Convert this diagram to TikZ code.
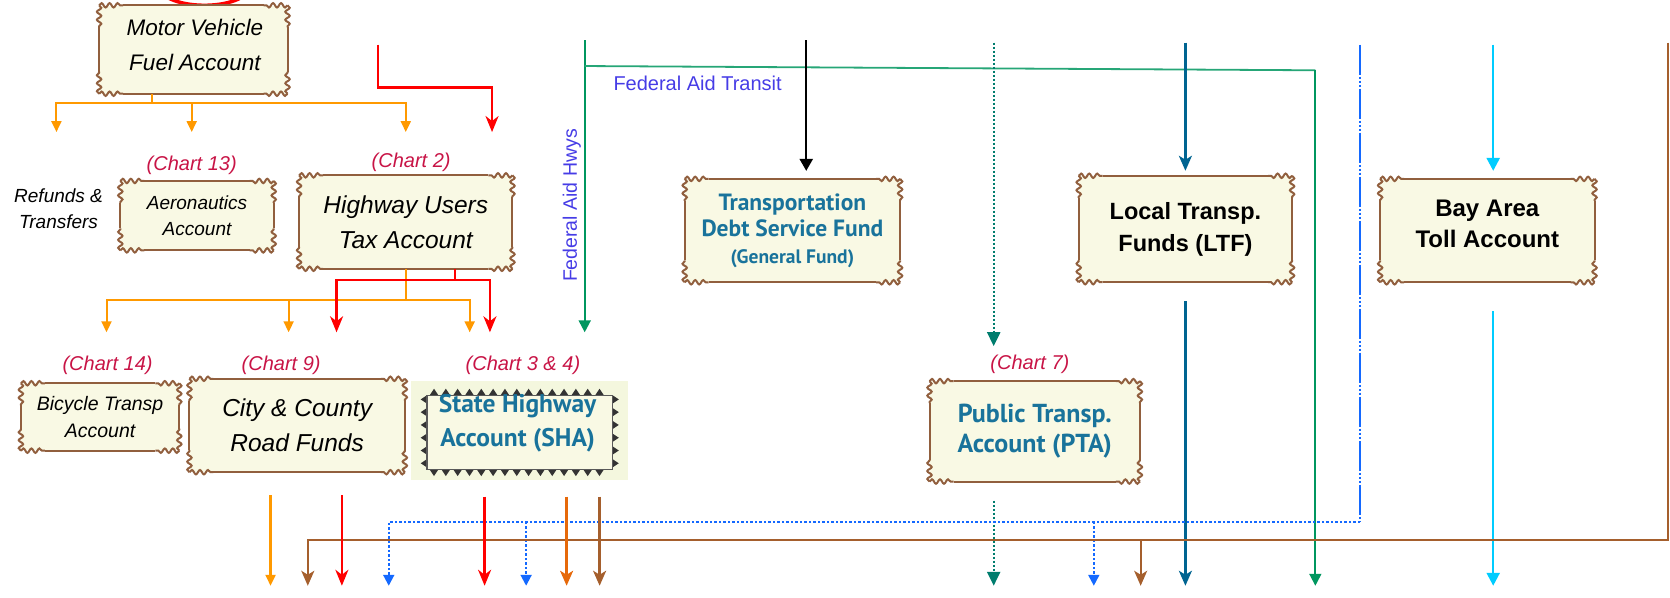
\documentclass[tikz,border=0pt]{standalone}
\usepackage{fontspec}
\setmainfont{Liberation Sans}
\newfontfamily\ptsans{PT Sans}
\usetikzlibrary{arrows.meta,decorations.pathmorphing,calc}
\definecolor{cream}{RGB}{249,249,228}
\definecolor{scrollbrown}{RGB}{145,95,62}
\definecolor{orangeA}{RGB}{255,153,0}
\definecolor{redA}{RGB}{255,0,0}
\definecolor{greenA}{RGB}{0,150,95}
\definecolor{tealA}{RGB}{0,125,110}
\definecolor{ltfblue}{RGB}{0,100,145}
\definecolor{blueA}{RGB}{20,105,255}
\definecolor{cyanA}{RGB}{0,204,255}
\definecolor{brownA}{RGB}{165,95,45}
\definecolor{dorange}{RGB}{230,105,10}
\definecolor{chartred}{RGB}{200,20,70}
\definecolor{fedblue}{RGB}{70,60,230}
\definecolor{tealtext}{RGB}{25,115,155}
\definecolor{shabg}{RGB}{244,247,222}
\newcommand{\scrollborder}[1]{%
  \draw[scrollline] ([xshift=24pt]#1.north west) -- ([xshift=-24pt]#1.north east);
  \draw[scrollline] ([xshift=24pt]#1.south west) -- ([xshift=-24pt]#1.south east);
  \draw[scrollline] ([yshift=-22pt]#1.north west) -- ([yshift=22pt]#1.south west);
  \draw[scrollline] ([yshift=-22pt]#1.north east) -- ([yshift=22pt]#1.south east);
  \foreach \c/\dx/\dy in {north west/1/-1, north east/-1/-1, south west/1/1, south east/-1/1}{
    \draw[scrollline,scrollcurl] (#1.\c) -- ([xshift=\dx*24pt]#1.\c);
    \draw[scrollline,scrollcurl] (#1.\c) -- ([yshift=\dy*22pt]#1.\c);
  }%
}
\begin{document}
\begin{tikzpicture}[x=1.065pt,y=-1.065pt,
  scrollline/.style={draw=scrollbrown,line width=2pt},
  scrollcurl/.style={decorate,decoration={snake,amplitude=2.2pt,segment length=8pt}},
  scrollbox/.style={fill=cream,inner sep=0pt,align=center},
  chartlbl/.style={font=\fontsize{20}{22}\selectfont\itshape,text=chartred},
  og/.style={draw=orangeA,line width=2pt},
  ogA/.style={og,-{Triangle[length=11pt,width=10pt]}},
  rd/.style={draw=redA,line width=2.5pt},
  rdA/.style={rd,-{Stealth[length=16pt,width=13pt,inset=5pt]}},
  grA/.style={draw=greenA,line width=2.2pt,-{Triangle[length=12pt,width=12pt]}},
  bkA/.style={draw=black,line width=2.4pt,-{Triangle[length=12pt,width=13pt]}},
  tlA/.style={draw=tealA,line width=2.4pt,dash pattern=on 2pt off 2pt,-{Triangle[length=14pt,width=13pt]}},
  ltA/.style={draw=ltfblue,line width=2.4pt,-{Stealth[length=15pt,width=13pt,inset=4pt]}},
  bldd/.style={draw=blueA,line width=2.2pt,dash pattern=on 30pt off 2pt on 2pt off 2pt on 2pt off 2pt on 2pt off 2pt},
  bld/.style={draw=blueA,line width=2pt,dash pattern=on 2.5pt off 2pt},
  blA/.style={bld,-{Triangle[length=11pt,width=11pt]}},
  cyA/.style={draw=cyanA,line width=2.4pt,-{Triangle[length=13pt,width=13pt]}},
  brA/.style={draw=brownA,line width=2pt,-{Stealth[length=15pt,width=13pt,inset=4pt]}},
  doA/.style={draw=dorange,line width=2.4pt,-{Stealth[length=15pt,width=13pt,inset=4pt]}},
  brB/.style={draw=brownA,line width=2.4pt,-{Stealth[length=15pt,width=13pt,inset=4pt]}},
  teeth/.style={fill=black!80},
]
\useasboundingbox (0,0) rectangle (1568,561);
\begin{scope}
  \clip (0,0) rectangle (1568,561);
  \draw[redA,line width=3.5pt] (192,-15) ellipse [x radius=45, y radius=20];
\end{scope}

% ---------- boxes ----------
\node[scrollbox,minimum width=188pt,minimum height=88pt] (mvfa) at (181.5,46.5) {};
\node[font=\fontsize{22.5}{35}\selectfont\itshape,align=center] (mvfatext) at (183,42.5) {Motor Vehicle\\Fuel Account};
\node[scrollbox,minimum width=153pt,minimum height=69pt,font=\fontsize{19}{25.6}\selectfont\itshape] (aero) at (185,202.5) {Aeronautics\\Account};
\node[scrollbox,minimum width=213pt,minimum height=93pt,font=\fontsize{24.5}{35}\selectfont\itshape] (huta) at (381,208.5) {Highway Users\\Tax Account};
\node[scrollbox,minimum width=158pt,minimum height=67pt,font=\fontsize{19.5}{27.7}\selectfont\itshape] (bike) at (94,391.5) {Bicycle Transp\\Account};
\node[scrollbox,minimum width=215pt,minimum height=93pt,font=\fontsize{24.5}{35}\selectfont\itshape] (city) at (279,399.5) {City \& County\\Road Funds};
\node[scrollbox,minimum width=215pt,minimum height=103pt,font=\fontsize{23.5}{26.6}\selectfont\ptsans\bfseries,text=tealtext] (tdsf) at (744,216.5) {Transportation\\Debt Service Fund\\{\fontsize{19.5}{26.6}\selectfont(General Fund)}};
\node[scrollbox,minimum width=210pt,minimum height=100pt,font=\fontsize{26}{30}\selectfont\ptsans\bfseries,text=tealtext] (pta) at (971.5,405) {Public Transp.\\Account (PTA)};
\node[scrollbox,minimum width=213pt,minimum height=106pt,font=\fontsize{23.5}{32}\selectfont\bfseries] (ltf) at (1113,215) {Local Transp.\\Funds (LTF)};
\node[scrollbox,minimum width=214pt,minimum height=103pt] (bay) at (1396.5,216.5) {};
\node[font=\fontsize{24}{31}\selectfont\bfseries,align=center] (baytext) at (1396.5,210.5) {Bay Area\\Toll Account};
\foreach \b in {mvfa,aero,huta,bike,city,tdsf,pta,ltf,bay}{\scrollborder{\b}}

% stamp box (SHA)
\node[fill=shabg,minimum width=217pt,minimum height=99pt,inner sep=0pt] (sha) at (488,404.5) {};
\foreach \i in {0,...,14}{\fill[teeth] ({407.5+\i*11.1-4},371) -- ++(4,-6) -- ++(4,6) -- cycle;}
\foreach \i in {0,...,14}{\fill[teeth] ({407.5+\i*11.1-4},441) -- ++(4,6) -- ++(4,-6) -- cycle;}
\foreach \j in {0,...,5}{\fill[teeth] (575,{375+\j*12-4}) -- ++(6,4) -- ++(-6,4) -- cycle;}
\foreach \j in {0,...,5}{\fill[teeth] (401,{375+\j*12-4}) -- ++(-6,4) -- ++(6,4) -- cycle;}
\draw[fill=cream,draw=black!65,line width=1.2pt] (401,371) rectangle (575,441);
\node[font=\fontsize{25.5}{34}\selectfont\ptsans\bfseries,text=tealtext,align=center] (shatext) at (486,397) {State Highway\\Account (SHA)};

% ---------- labels ----------
\node[font=\fontsize{19}{25.6}\selectfont\itshape,align=center] (refunds) at (55,196) {Refunds \&\\Transfers};
\node[chartlbl] (c13) at (180,155) {(Chart 13)};
\node[chartlbl] (c2) at (386,152) {(Chart 2)};
\node[chartlbl] (c14) at (101,343) {(Chart 14)};
\node[chartlbl] (c9) at (264,343) {(Chart 9)};
\node[chartlbl] (c34) at (491,343) {(Chart 3 \& 4)};
\node[chartlbl] (c7) at (967,342) {(Chart 7)};
\node[font=\fontsize{20}{22}\selectfont,text=fedblue] (fat) at (655,78) {Federal Aid Transit};
\node[font=\fontsize{19.5}{22}\selectfont,text=fedblue,rotate=90] (fah) at (537,193) {Federal Aid Hwys};

% ---------- coordinates ----------
\coordinate (mvJ) at (143,97);
\coordinate (refIn) at (53,124);
\coordinate (aeroIn) at (180,124);
\coordinate (hutaIn) at (381,124);
\coordinate (rdS) at (355,42);
\coordinate (rdB) at (355,82);
\coordinate (hutaRin) at (462,124);
\coordinate (huO) at (381,282);
\coordinate (bikeIn) at (100,312);
\coordinate (cityOin) at (271,312);
\coordinate (shaOin) at (441,312);
\coordinate (huR) at (427,263);
\coordinate (cityRin) at (316,312);
\coordinate (shaRin) at (460,312);
\coordinate (fhS) at (549,38);
\coordinate (fhE) at (549,312);
\coordinate (ftS) at (549,62);
\coordinate (ftC) at (1235,66);
\coordinate (ftE) at (1235,550);
\coordinate (bkS) at (757,38);
\coordinate (tlS) at (933,40);
\coordinate (tlE) at (933,325);
\coordinate (tlB) at (933,550);
\coordinate (ltS) at (1113,40);
\coordinate (ltB) at (1113,550);
\coordinate (blS) at (1277,42);
\coordinate (blC) at (1277,490);
\coordinate (bl1) at (365,550);
\coordinate (bl2) at (494,550);
\coordinate (bl3) at (1027,550);
\coordinate (bayS) at (1402,42);
\coordinate (bayB) at (1402,550);
\coordinate (brS) at (1566,40);
\coordinate (brC) at (1566,507);
\coordinate (br1) at (289,550);
\coordinate (br2) at (1071,550);
\coordinate (cy1) at (254,550);
\coordinate (cy2) at (321,550);
\coordinate (sh1) at (455,550);
\coordinate (sh2) at (532,550);
\coordinate (sh3) at (563,550);

% ---------- connectors ----------
\draw[og] (mvfa.south -| mvJ) -- (mvJ);
\draw[ogA] (mvJ) -| (refIn);
\draw[ogA] (mvJ) -| (aeroIn);
\draw[ogA] (mvJ) -| (hutaIn);
\draw[rdA] (rdS) -- (rdB) -| (hutaRin);

\draw[og] (huta.south -| huO) -- (huO);
\draw[ogA] (huO) -| (bikeIn);
\draw[ogA] (huO) -| (cityOin);
\draw[ogA] (huO) -| (shaOin);
\draw[rd] (huta.south -| huR) -- (huR);
\draw[rdA] (huR) -| (cityRin);
\draw[rdA] (huR) -| (shaRin);

\draw[grA] (fhS) -- (fhE);
\draw[draw=greenA!85,line width=1.8pt] (ftS) -- (ftC);
\draw[grA,line width=1.8pt] (ftC) -- (ftE);

\draw[bkA,shorten >=8pt] (bkS) -- (bkS |- tdsf.north);
\draw[tlA] (tlS) -- (tlE);
\draw[tlA,shorten <=19pt] (pta.south -| tlS) -- (tlB);
\draw[ltA,shorten >=5pt] (ltS) -- (ltf.north);
\draw[ltA,shorten <=19pt] (ltf.south) -- (ltB);

\draw[bldd] (blS) -- (blC);
\draw[blA] (blC) -| (bl1);
\draw[blA] (bl2 |- blC) -- (bl2);
\draw[blA] (bl3 |- blC) -- (bl3);

\draw[cyA,shorten >=8pt] (bayS) -- (bayS |- bay.north);
\draw[cyA,shorten <=29pt] (bayS |- bay.south) -- (bayB);

\draw[brA] (brS) -- (brC) -| (br1);
\draw[brA] (br2 |- brC) -- (br2);

\draw[ogA,line width=2.2pt,shorten <=23pt] (city.south -| cy1) -- (cy1);
\draw[rdA,shorten <=23pt] (city.south -| cy2) -- (cy2);
\draw[rdA,shorten <=16pt] (sha.south -| sh1) -- (sh1);
\draw[doA,shorten <=16pt] (sha.south -| sh2) -- (sh2);
\draw[brB,shorten <=16pt] (sha.south -| sh3) -- (sh3);
\end{tikzpicture}
\end{document}
